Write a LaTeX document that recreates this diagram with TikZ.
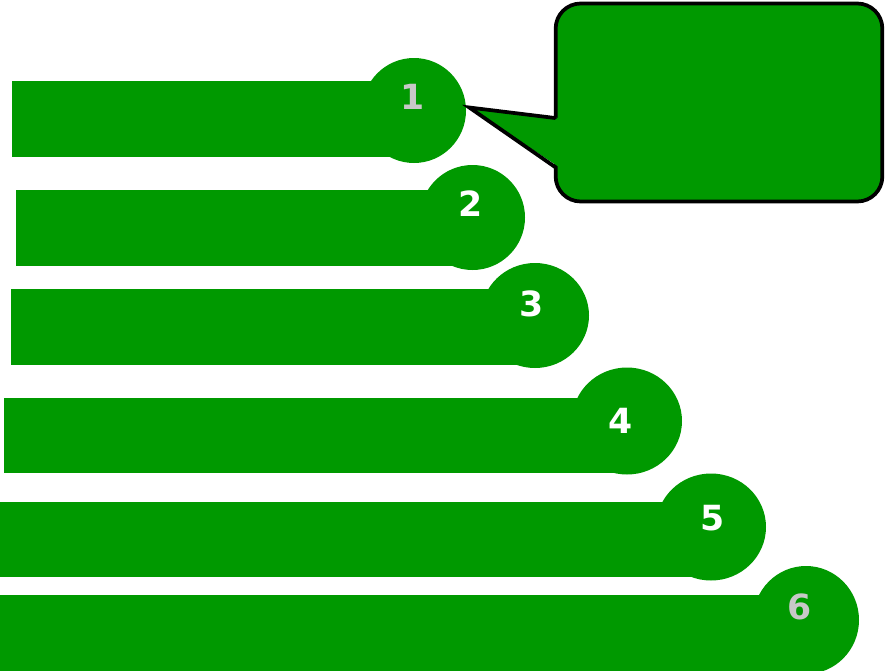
\documentclass[tikz,border=0pt]{standalone}
\usepackage{fontspec}
\setmainfont{DejaVu Sans}
\usetikzlibrary{shapes}
\usetikzlibrary{positioning}
\definecolor{bargreen}{HTML}{009900}
\definecolor{numgrey}{HTML}{C8C8C8}
\tikzstyle{bar}=[fill=bargreen]
\tikzstyle{knob}=[ellipse,fill=bargreen,inner sep=0pt]
\tikzstyle{num}=[font=\fontsize{26}{26}\selectfont\bfseries,inner sep=0pt]
\tikzstyle{callbox}=[rectangle,rounded corners=18.75pt,draw=black,line width=2.8pt,fill=bargreen,minimum width=245pt,minimum height=148.5pt,inner sep=0pt]
\tikzstyle{pointer}=[draw=black,line width=2.8pt,line cap=round]

\begin{document}
\begin{tikzpicture}[x=0.75pt,y=-0.75pt]
\useasboundingbox (0,0) rectangle (886,671);

    % First the bars with their knobs
    \foreach \xs/\ya/\yb/\name/\cx/\cy/\w/\h/\tx/\ty/\col/\txt in {12/81/157/k1/414/110.5/104/105/413/97/numgrey/1, 16/190/266/k2/472.5/217.5/105/105/471/204/white/2, 11/289/365/k3/535/315.5/108/105/532/304/white/3, 4/398/473/k4/627/421/110/107/621/421/white/4, 0/502/577/k5/711/527/110/107/713/518/white/5, 0/595/671/k6/806/620/106/108/800/607/numgrey/6}
    {
        \fill[bar] (\xs,\ya) rectangle (\cx,\yb);
        \node[knob,minimum width=\w*0.75pt,minimum height=\h*0.75pt] (\name) at (\cx,\cy) {};
        \node[num,text=\col] (t\name) at (\tx,\ty) {\txt};
    }

    % Then the callout box pointing at knob 1
    \node[callbox] (box) at (719,102.5) {};
    \coordinate (tip) at ([shift={(3,-3)}]k1.east);
    \coordinate (pa) at (555,118);
    \coordinate (pb) at (555,167);
    \fill[bargreen] (tip) -- ([xshift=3pt]pa) -- ([xshift=3pt]pb) -- cycle;
    \draw[pointer] (pa) -- (tip) -- (pb);

\end{tikzpicture}
\end{document}
